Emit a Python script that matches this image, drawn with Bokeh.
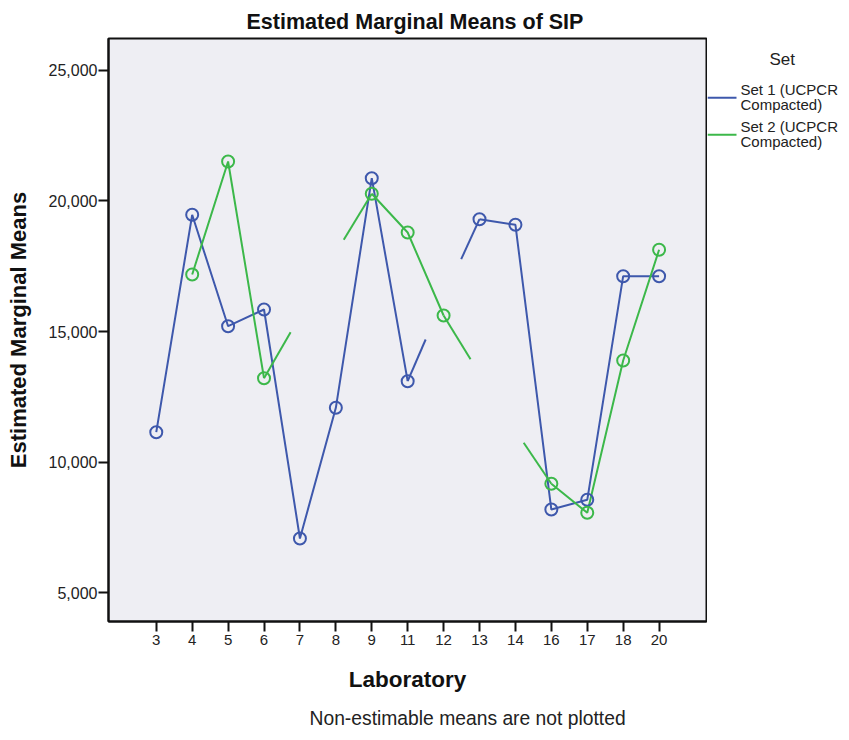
from bokeh.plotting import figure
from bokeh.layouts import row
from bokeh.models import (FixedTicker, NumeralTickFormatter, Range1d, Label,
                          Title)
from bokeh.core.properties import value
from bokeh.embed import file_html
from bokeh.resources import INLINE

nan = float("nan")

# ---- data ----
laboratories = [3, 4, 5, 6, 7, 8, 9, 11, 12, 13, 14, 16, 17, 18, 20]
set1_means = [11142, 19471, 15203, 15843, 7069, 12077, 20874, 13096, nan,
              19303, 19088, 8180, 8552, 17119, 17119]
set2_means = [nan, 17184, 21513, 13211, nan, nan, 20276, 18793, 15613,
              nan, nan, 9165, 8054, 13889, 18130]

# partial line segments drawn toward non-estimable neighbours
set1_stub_from = [11, 13]
set1_stub_toward = [12, 12]
set1_stub_reach = [0.50, 0.51]
set1_stub_end = [14694, 17770]

set2_stub_from = [6, 9, 12, 16]
set2_stub_toward = [7, 8, 13, 14]
set2_stub_reach = [0.74, 0.78, 0.75, 0.77]
set2_stub_end = [14973, 18513, 13939, 10736]

series_labels = ["Set 1 (UCPCR\nCompacted)", "Set 2 (UCPCR\nCompacted)"]
legend_title = "Set"
y_ticks = [5000, 10000, 15000, 20000, 25000]

BLUE = "#3e58ac"
GREEN = "#3cb84a"
series_colors = [BLUE, GREEN]
FONT = "Liberation Sans"
INK = "#111111"

idx = list(range(len(laboratories)))
pos = {lab: i for i, lab in enumerate(laboratories)}

# ---------------- main plot ----------------
p = figure(width=707, height=740, output_backend="svg", toolbar_location=None,
           x_range=Range1d(-1.33, 15.32), y_range=Range1d(3889, 26226),
           min_border_left=108, min_border_right=1,
           min_border_top=38, min_border_bottom=119)

p.background_fill_color = "#eeeef3"
p.border_fill_color = "white"
p.outline_line_color = INK
p.outline_line_width = 2
p.xgrid.visible = False
p.ygrid.visible = False

p.title.text = "Estimated Marginal Means of SIP"
p.title.align = "left"
p.title.offset = 138
p.title.text_font = FONT
p.title.text_font_size = "21.5px"
p.title.text_font_style = "bold"
p.title.text_color = INK
p.title.standoff = 9

for ax in (p.xaxis[0], p.yaxis[0]):
    ax.axis_line_color = INK
    ax.axis_line_width = 2
    ax.major_tick_line_color = INK
    ax.major_tick_line_width = 2
    ax.major_tick_out = 10
    ax.major_tick_in = 0
    ax.minor_tick_line_color = None
    ax.major_label_text_font = FONT
    ax.major_label_text_color = "#222222"
    ax.axis_label_text_font = FONT
    ax.axis_label_text_font_style = "bold"
    ax.axis_label_text_color = INK

p.xaxis.ticker = FixedTicker(ticks=idx)
p.xaxis.major_label_overrides = {i: str(lab) for i, lab in enumerate(laboratories)}
p.xaxis.major_label_text_font_size = "15px"
p.xaxis.major_label_standoff = 3
p.xaxis.axis_label = "Laboratory"
p.xaxis.axis_label_text_font_size = "22.5px"
p.xaxis.axis_label_standoff = 19

p.yaxis.ticker = FixedTicker(ticks=y_ticks)
p.yaxis.formatter = NumeralTickFormatter(format="0,0")
p.yaxis.major_label_text_font_size = "16px"
p.yaxis.major_label_standoff = 1
p.yaxis.axis_label = "Estimated Marginal Means"
p.yaxis.axis_label_text_font_size = "22px"
p.yaxis.axis_label_standoff = 15


def stub_x(froms, towards, reach):
    x0 = [pos[f] for f in froms]
    x1 = [pos[f] + r * (1 if pos[t] > pos[f] else -1)
          for f, t, r in zip(froms, towards, reach)]
    return x0, x1


# Set 1
p.line(idx, set1_means, line_color=BLUE, line_width=2)
sx0, sx1 = stub_x(set1_stub_from, set1_stub_toward, set1_stub_reach)
sy0 = [set1_means[pos[f]] for f in set1_stub_from]
p.segment(sx0, sy0, sx1, set1_stub_end, line_color=BLUE, line_width=2)

# Set 2
p.line(idx, set2_means, line_color=GREEN, line_width=2)
gx0, gx1 = stub_x(set2_stub_from, set2_stub_toward, set2_stub_reach)
gy0 = [set2_means[pos[f]] for f in set2_stub_from]
p.segment(gx0, gy0, gx1, set2_stub_end, line_color=GREEN, line_width=2)

p.scatter(idx, set1_means, marker="circle", size=12, fill_color=None,
          line_color=BLUE, line_width=2)
p.scatter(idx, set2_means, marker="circle", size=12, fill_color=None,
          line_color=GREEN, line_width=2)

foot = Title(text="Non-estimable means are not plotted", align="left",
             offset=201, text_font=FONT, text_font_size="19.3px",
             text_font_style="normal", text_color="#222222", standoff=22)
p.add_layout(foot, "below")

# ---------------- legend panel (pixel coordinates of the page) ----------------
LG_LEFT, LG_RIGHT, LG_TOP, LG_BOTTOM = 707, 849, 38, 621
lg = figure(width=LG_RIGHT - LG_LEFT, height=740, output_backend="svg",
            toolbar_location=None,
            x_range=Range1d(LG_LEFT, LG_RIGHT), y_range=Range1d(LG_BOTTOM, LG_TOP),
            min_border_left=0, min_border_right=0,
            min_border_top=LG_TOP, min_border_bottom=740 - LG_BOTTOM,
            x_axis_location=None, y_axis_location=None)
lg.outline_line_color = None
lg.background_fill_color = "white"
lg.border_fill_color = "white"
lg.grid.visible = False

key_y = [97.3, 134.3]
key_x0, key_x1, text_x = 707, 736, 740
lg.segment(x0=[key_x0] * 2, y0=key_y, x1=[key_x1] * 2, y1=key_y,
           line_color=series_colors, line_width=2)
lg.text(x=[text_x] * 2, y=[y - 1 for y in key_y], text=series_labels,
        text_align="left", text_baseline="middle",
        text_font=value(FONT), text_font_size=value("15px"),
        text_line_height=0.9, text_color="#222222")

lg.add_layout(Label(x=781.7, y=59.3, text=legend_title, text_align="center",
                    text_baseline="middle", text_font=FONT,
                    text_font_size="17px", text_color="#222222"))

layout = row(p, lg, spacing=0)
open("out.html", "w").write(file_html(layout, INLINE))
